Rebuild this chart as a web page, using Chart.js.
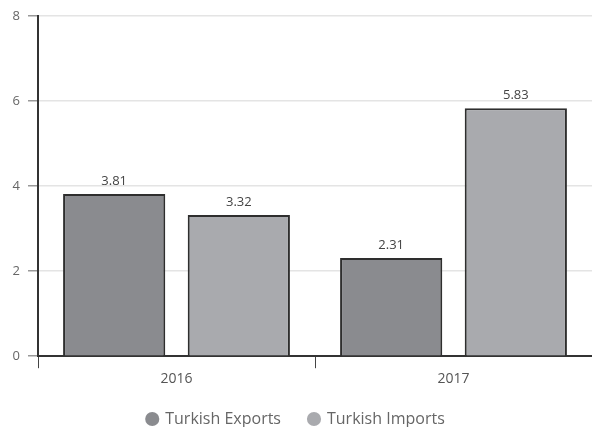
<!DOCTYPE html>
<html>
<head>
<meta charset="utf-8">
<script src="https://cdn.jsdelivr.net/npm/chart.js@4"></script>
<style>
  html, body { margin: 0; padding: 0; background: #fff; }
  #wrap { width: 592px; height: 427px; }
</style>
</head>
<body>
<div id="wrap"><canvas id="myChart"></canvas></div>
<script>
var years = ['2016', '2017'];
var exportsData = [3.81, 2.31];
var importsData = [3.32, 5.83];
var yTicks = [0, 2, 4, 6, 8];

var chartColors = {
    exports: '#8a8b8f',
    imports: '#a9aaae',
    border: '#2e2e2e',
    text: '#555'
};

Chart.defaults.font.family = "'Open Sans', sans-serif";
Chart.defaults.color = chartColors.text;

// writes the value above each bar
var valueLabels = {
    id: 'valueLabels',
    afterDatasetsDraw: function(chart) {
        var ctx = chart.ctx;
        ctx.save();
        ctx.font = "13px 'Open Sans', sans-serif";
        ctx.fillStyle = '#444';
        ctx.textAlign = 'center';
        ctx.textBaseline = 'bottom';
        chart.data.datasets.forEach(function(ds, i) {
            chart.getDatasetMeta(i).data.forEach(function(bar, j) {
                ctx.fillText(ds.data[j].toFixed(2), bar.x, bar.y - 6);
            });
        });
        ctx.restore();
    }
};

function renderGraph() {
    var ctx = document.getElementById('myChart').getContext('2d');

    var barData = {
        labels: years,
        datasets: [{
            label: 'Turkish Exports',
            backgroundColor: chartColors.exports,
            borderColor: chartColors.border,
            borderWidth: 2,
            data: exportsData
        }, {
            label: 'Turkish Imports',
            backgroundColor: chartColors.imports,
            borderColor: chartColors.border,
            borderWidth: 2,
            data: importsData
        }]
    };

    var barOptions = {
        responsive: true,
        maintainAspectRatio: false,
        animation: false,
        layout: { padding: { top: 13, right: 0, left: 0, bottom: -10 } },
        categoryPercentage: 0.9,
        barPercentage: 0.82,
        plugins: {
            legend: {
                position: 'bottom',
                labels: {
                    usePointStyle: true,
                    pointStyle: 'circle',
                    boxWidth: 10,
                    boxHeight: 10,
                    padding: 28,
                    color: '#666',
                    font: { size: 16 },
                    generateLabels: function(chart) {
                        return chart.data.datasets.map(function(ds, i) {
                            return {
                                text: ds.label,
                                fillStyle: ds.backgroundColor,
                                strokeStyle: ds.backgroundColor,
                                lineWidth: 0,
                                pointStyle: 'circle',
                                fontColor: '#666',
                                datasetIndex: i,
                                hidden: false
                            };
                        });
                    }
                }
            },
            tooltip: { enabled: false }
        },
        scales: {
            x: {
                afterFit: function(scale) { scale.height -= 6; },
                grid: {
                    drawOnChartArea: false,
                    tickLength: 12,
                    tickColor: '#444',
                    tickWidth: 1
                },
                border: { color: '#333', width: 2 },
                ticks: { color: '#555', font: { size: 14 }, padding: 2 }
            },
            y: {
                min: 0,
                max: 8,
                afterBuildTicks: function(scale) {
                    scale.ticks = yTicks.map(function(v) { return { value: v }; });
                },
                afterFit: function(scale) { scale.width = 38; },
                grid: {
                    color: '#e4e4e4',
                    tickLength: 10,
                    tickColor: '#999',
                    lineWidth: 1.5
                },
                border: { color: '#333', width: 2 },
                ticks: { color: '#666', font: { size: 13 }, padding: 8 }
            }
        }
    };

    new Chart(ctx, {
        type: 'bar',
        data: barData,
        options: barOptions,
        plugins: [valueLabels]
    });
}

renderGraph();
</script>
</body>
</html>
